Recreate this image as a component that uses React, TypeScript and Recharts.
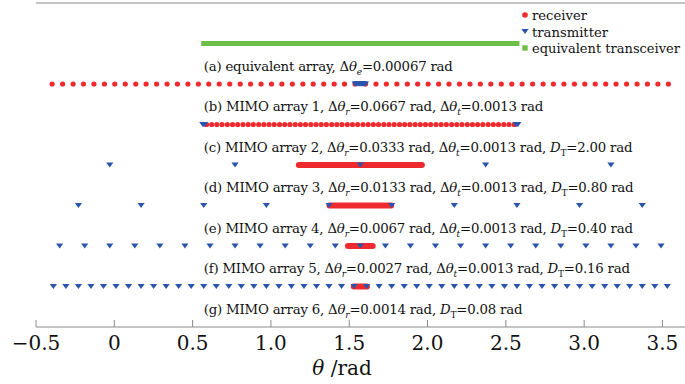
import { ComposedChart, Line, Scatter, XAxis, YAxis, Legend, ReferenceLine } from 'recharts'

// x axis
const xTicks = [-0.5, 0, 0.5, 1, 1.5, 2, 2.5, 3, 3.5]
const xDomain = [-0.5, 3.644]

// row levels, top to bottom
const rowLevels = [7, 6, 5, 4, 3, 2, 1]

// (a) equivalent transceiver (ends of the dense green run)
const transceiverA = [0.571, 2.571]

// (b)
const receiverB = [
  -0.397, -0.33, -0.263, -0.197, -0.13, -0.063, 0.003, 0.07, 0.137, 0.203,
  0.27, 0.337, 0.403, 0.47, 0.537, 0.603, 0.67, 0.737, 0.804, 0.87,
  0.937, 1.004, 1.07, 1.137, 1.204, 1.27, 1.337, 1.404, 1.47, 1.537,
  1.604, 1.671, 1.737, 1.804, 1.871, 1.937, 2.004, 2.071, 2.137, 2.204,
  2.271, 2.337, 2.404, 2.471, 2.538, 2.604, 2.671, 2.738, 2.804, 2.871,
  2.938, 3.004, 3.071, 3.138, 3.204, 3.271, 3.338, 3.404, 3.471, 3.538,
]
const transmitterB = [1.538, 1.545, 1.551, 1.558, 1.564, 1.571, 1.578, 1.584, 1.591, 1.597, 1.604]

// (c)
const receiverC = [
  0.589, 0.622, 0.655, 0.688, 0.722, 0.755, 0.788, 0.822, 0.855, 0.888,
  0.922, 0.955, 0.988, 1.021, 1.055, 1.088, 1.121, 1.155, 1.188, 1.221,
  1.255, 1.288, 1.321, 1.354, 1.388, 1.421, 1.454, 1.488, 1.521, 1.554,
  1.588, 1.621, 1.654, 1.687, 1.721, 1.754, 1.787, 1.821, 1.854, 1.887,
  1.921, 1.954, 1.987, 2.02, 2.054, 2.087, 2.12, 2.154, 2.187, 2.22,
  2.254, 2.287, 2.32, 2.353, 2.387, 2.42, 2.453, 2.487, 2.52, 2.553,
]
const transmitterC = [0.565, 0.571, 0.577, 2.565, 2.571, 2.577]

// (d)
const receiverD = [1.178, 1.964]
const transmitterD = [-0.029, 0.771, 1.571, 2.371, 3.171]

// (e)
const receiverE = [1.374, 1.768]
const transmitterE = [-0.229, 0.171, 0.571, 0.971, 1.371, 1.771, 2.171, 2.571, 2.971, 3.371]

// (f)
const receiverF = [1.492, 1.65]
const transmitterF = [
  -0.349, -0.189, -0.029, 0.131, 0.291, 0.451, 0.611, 0.771, 0.931, 1.091,
  1.251, 1.411, 1.571, 1.731, 1.891, 2.051, 2.211, 2.371, 2.531, 2.691,
  2.851, 3.011, 3.171, 3.331, 3.491,
]

// (g)
const receiverG = [1.529, 1.613]
const transmitterG = [
  -0.389, -0.309, -0.229, -0.149, -0.069, 0.011, 0.091, 0.171, 0.251, 0.331,
  0.411, 0.491, 0.571, 0.651, 0.731, 0.811, 0.891, 0.971, 1.051, 1.131,
  1.211, 1.291, 1.371, 1.451, 1.531, 1.611, 1.691, 1.771, 1.851, 1.931,
  2.011, 2.091, 2.171, 2.251, 2.331, 2.411, 2.491, 2.571, 2.651, 2.731,
  2.811, 2.891, 2.971, 3.051, 3.131, 3.211, 3.291, 3.371, 3.451, 3.531,
]

// row captions: [text, style]  style: n normal, i italic, si sub italic, s sub roman
type Seg = [string, string]
const captions: Seg[][] = [
  [['(a) equivalent array, Δ', 'n'], ['θ', 'i'], ['e', 'si'], ['=0.00067 rad', 'n']],
  [['(b) MIMO array 1, Δ', 'n'], ['θ', 'i'], ['r', 'si'], ['=0.0667 rad, Δ', 'n'], ['θ', 'i'], ['t', 'si'], ['=0.0013 rad', 'n']],
  [['(c) MIMO array 2, Δ', 'n'], ['θ', 'i'], ['r', 'si'], ['=0.0333 rad, Δ', 'n'], ['θ', 'i'], ['t', 'si'], ['=0.0013 rad, ', 'n'], ['D', 'i'], ['T', 's'], ['=2.00 rad', 'n']],
  [['(d) MIMO array 3, Δ', 'n'], ['θ', 'i'], ['r', 'si'], ['=0.0133 rad, Δ', 'n'], ['θ', 'i'], ['t', 'si'], ['=0.0013 rad, ', 'n'], ['D', 'i'], ['T', 's'], ['=0.80 rad', 'n']],
  [['(e) MIMO array 4, Δ', 'n'], ['θ', 'i'], ['r', 'si'], ['=0.0067 rad, Δ', 'n'], ['θ', 'i'], ['t', 'si'], ['=0.0013 rad, ', 'n'], ['D', 'i'], ['T', 's'], ['=0.40 rad', 'n']],
  [['(f) MIMO array 5, Δ', 'n'], ['θ', 'i'], ['r', 'si'], ['=0.0027 rad, Δ', 'n'], ['θ', 'i'], ['t', 'si'], ['=0.0013 rad, ', 'n'], ['D', 'i'], ['T', 's'], ['=0.16 rad', 'n']],
  [['(g) MIMO array 6, Δ', 'n'], ['θ', 'i'], ['r', 'si'], ['=0.0014 rad, ', 'n'], ['D', 'i'], ['T', 's'], ['=0.08 rad', 'n']],
]
const captionX = 0.571

const legendItems = ['receiver', 'transmitter', 'equivalent transceiver']
const legendWidths = [55, 76, 148]

const RED = '#ee2a2e'
const BLUE = '#2b55ad'
const GREEN = '#6cbf48'
const GRAY = '#8a8a8a'
const FONT = 'DejaVu Serif'

const pts = (xs: number[], y: number) => xs.map((x) => ({ x, y }))
const captionData = captions.map((_, i) => ({ x: captionX, y: rowLevels[i] - 0.555, idx: i }))

const Dot = (p: any) => <circle cx={p.cx} cy={p.cy} r={2.6} fill={RED} />
const Tri = (p: any) => (
  <path d={`M${p.cx - 3.6},${p.cy - 2.4}L${p.cx + 3.6},${p.cy - 2.4}L${p.cx},${p.cy + 2.6}Z`} fill={BLUE} />
)

const Caption = (p: any) => {
  const segs = captions[p.payload.idx]
  let sub = false
  return (
    <text x={p.cx} y={p.cy + 5} fontFamily={FONT} fontSize={13.3} letterSpacing={-0.2} fill="#111">
      {segs.map(([t, s], i) => {
        const isSub = s === 'si' || s === 's'
        const dy = isSub && !sub ? 4 : !isSub && sub ? -4 : 0
        sub = isSub
        return (
          <tspan key={i} dy={dy} fontStyle={s === 'i' || s === 'si' ? 'italic' : 'normal'} fontSize={isSub ? 9 : 13.3}>
            {t}
          </tspan>
        )
      })}
    </text>
  )
}

const Tick = (p: any) => {
  const v = p.payload.value
  const s = v === 0 ? '0' : v < 0 ? '−' + Math.abs(v).toFixed(1) : v.toFixed(1)
  return (
    <g>
      <line x1={p.x} x2={p.x} y1={p.y - 7} y2={p.y} stroke={GRAY} />
      <text x={p.x} y={p.y + 23} textAnchor="middle" fontFamily={FONT} fontSize={20} fill="#111">
        {s}
      </text>
    </g>
  )
}

const AxisTitle = (p: any) => {
  const vb = p.viewBox
  return (
    <text x={vb.x + 306} y={vb.y + 48} textAnchor="middle" fontFamily={FONT} fontSize={20} fill="#111">
      <tspan fontStyle="italic">θ</tspan>
      <tspan> /rad</tspan>
    </text>
  )
}

const LegendBox = () => (
  <svg width={166} height={52} style={{ display: 'block' }}>
    {legendItems.map((t, i) => {
      const cy = 9 + i * 16.5
      return (
        <g key={t}>
          {i === 0 && <circle cx={6} cy={cy} r={2.8} fill={RED} />}
          {i === 1 && <path d={`M2.4,${cy - 2.4}L9.6,${cy - 2.4}L6,${cy + 2.6}Z`} fill={BLUE} />}
          {i === 2 && <rect x={3.3} y={cy - 2.7} width={5.4} height={5.4} fill={GREEN} />}
          <text
            x={13}
            y={cy + 5}
            fontFamily={FONT}
            fontSize={13}
            fill="#111"
            textLength={legendWidths[i]}
            lengthAdjust="spacingAndGlyphs"
          >
            {t}
          </text>
        </g>
      )
    })}
  </svg>
)

export default function App() {
  return (
    <div style={{ position: 'absolute', left: 0, top: 0, background: '#fff' }}>
      <ComposedChart width={685} height={384} margin={{ top: 3, right: 0, bottom: 0, left: 36 }}>
        <XAxis
          type="number"
          dataKey="x"
          domain={xDomain}
          ticks={xTicks}
          allowDataOverflow
          height={57}
          tickSize={0}
          tickMargin={0}
          tickLine={false}
          axisLine={{ stroke: GRAY }}
          tick={<Tick />}
          label={<AxisTitle />}
        />
        <YAxis type="number" dataKey="y" domain={[0, 8]} width={0} tick={false} tickLine={false} axisLine={{ stroke: GRAY }} />
        <ReferenceLine y={8} stroke={GRAY} />
        <Legend
          layout="vertical"
          align="center"
          verticalAlign="middle"
          wrapperStyle={{ position: 'absolute', left: 519, top: 6, width: 166 }}
          content={<LegendBox />}
        />

        <Line data={pts(transceiverA, rowLevels[0])} dataKey="y" stroke={GREEN} strokeWidth={5} strokeLinecap="square" dot={false} isAnimationActive={false} />

        <Scatter data={pts(receiverB, rowLevels[1])} shape={<Dot />} isAnimationActive={false} />
        <Scatter data={pts(receiverC, rowLevels[2])} shape={<Dot />} isAnimationActive={false} />
        <Line data={pts(receiverD, rowLevels[3])} dataKey="y" stroke={RED} strokeWidth={6} strokeLinecap="round" dot={false} isAnimationActive={false} />
        <Line data={pts(receiverE, rowLevels[4])} dataKey="y" stroke={RED} strokeWidth={6} strokeLinecap="round" dot={false} isAnimationActive={false} />
        <Line data={pts(receiverF, rowLevels[5])} dataKey="y" stroke={RED} strokeWidth={6} strokeLinecap="round" dot={false} isAnimationActive={false} />
        <Line data={pts(receiverG, rowLevels[6])} dataKey="y" stroke={RED} strokeWidth={6} strokeLinecap="round" dot={false} isAnimationActive={false} />

        <Scatter data={pts(transmitterB, rowLevels[1])} shape={<Tri />} isAnimationActive={false} />
        <Scatter data={pts(transmitterC, rowLevels[2])} shape={<Tri />} isAnimationActive={false} />
        <Scatter data={pts(transmitterD, rowLevels[3])} shape={<Tri />} isAnimationActive={false} />
        <Scatter data={pts(transmitterE, rowLevels[4])} shape={<Tri />} isAnimationActive={false} />
        <Scatter data={pts(transmitterF, rowLevels[5])} shape={<Tri />} isAnimationActive={false} />
        <Scatter data={pts(transmitterG, rowLevels[6])} shape={<Tri />} isAnimationActive={false} />

        <Scatter data={captionData} shape={<Caption />} isAnimationActive={false} />
      </ComposedChart>
    </div>
  )
}
